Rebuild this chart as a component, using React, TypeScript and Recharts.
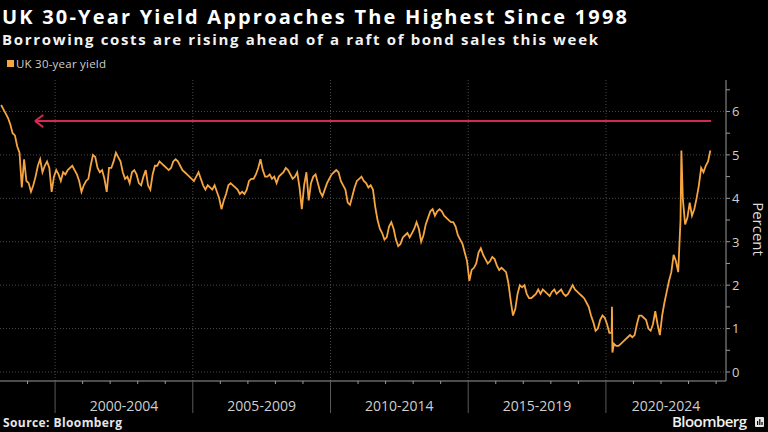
import { LineChart, Line, XAxis, YAxis, CartesianGrid, ReferenceLine } from "recharts";

// UK 30-year gilt yield, monthly readings (mid-month), Jan 1998 .. Oct 2023
const START_YEAR = 1998;
const monthlyYield = [
  // 1998
  6.15, 6.05, 5.95, 5.85, 5.7, 5.5, 5.45, 5.2, 5.05, 4.25, 4.9, 4.4,
  // 1999
  4.35, 4.15, 4.3, 4.5, 4.75, 4.9, 4.6, 4.75, 4.85, 4.7, 4.15, 4.5,
  // 2000
  4.65, 4.55, 4.4, 4.6, 4.55, 4.65, 4.7, 4.75, 4.65, 4.55, 4.4, 4.15,
  // 2001
  4.3, 4.4, 4.45, 4.75, 5.0, 4.95, 4.7, 4.6, 4.65, 4.45, 4.15, 4.7,
  // 2002
  4.7, 4.85, 5.05, 4.95, 4.85, 4.6, 4.45, 4.5, 4.35, 4.6, 4.65, 4.55,
  // 2003
  4.35, 4.3, 4.5, 4.65, 4.3, 4.2, 4.55, 4.75, 4.75, 4.85, 4.8, 4.75,
  // 2004
  4.7, 4.65, 4.7, 4.85, 4.9, 4.85, 4.75, 4.65, 4.6, 4.55, 4.5, 4.45,
  // 2005
  4.4, 4.5, 4.6, 4.45, 4.3, 4.2, 4.3, 4.25, 4.2, 4.3, 4.15, 4.0,
  // 2006
  3.75, 3.95, 4.1, 4.3, 4.35, 4.3, 4.25, 4.2, 4.1, 4.15, 4.1, 4.2,
  // 2007
  4.4, 4.45, 4.45, 4.55, 4.7, 4.9, 4.65, 4.5, 4.5, 4.55, 4.45, 4.5,
  // 2008
  4.35, 4.5, 4.55, 4.6, 4.7, 4.65, 4.55, 4.45, 4.5, 4.6, 4.25, 3.75,
  // 2009
  4.3, 4.6, 3.95, 4.35, 4.5, 4.55, 4.35, 4.15, 4.05, 4.2, 4.35, 4.45,
  // 2010
  4.55, 4.6, 4.65, 4.6, 4.4, 4.3, 4.2, 3.9, 3.85, 4.05, 4.25, 4.4,
  // 2011
  4.45, 4.5, 4.4, 4.35, 4.25, 4.3, 4.2, 3.8, 3.5, 3.3, 3.2, 3.05,
  // 2012
  3.1, 3.35, 3.45, 3.3, 3.05, 2.9, 2.95, 3.1, 3.15, 3.2, 3.1, 3.2,
  // 2013
  3.3, 3.45, 3.3, 3.0, 3.15, 3.4, 3.55, 3.7, 3.75, 3.6, 3.7, 3.75,
  // 2014
  3.7, 3.6, 3.55, 3.5, 3.45, 3.45, 3.35, 3.15, 3.05, 2.95, 2.75, 2.55,
  // 2015
  2.1, 2.35, 2.4, 2.5, 2.75, 2.85, 2.7, 2.6, 2.5, 2.55, 2.65, 2.6,
  // 2016
  2.45, 2.35, 2.4, 2.35, 2.3, 2.05, 1.65, 1.3, 1.45, 1.8, 2.0, 1.95,
  // 2017
  2.0, 1.8, 1.7, 1.7, 1.75, 1.8, 1.9, 1.8, 1.9, 1.85, 1.8, 1.75,
  // 2018
  1.85, 1.9, 1.8, 1.85, 1.9, 1.8, 1.75, 1.8, 1.9, 2.0, 1.9, 1.85,
  // 2019
  1.8, 1.75, 1.7, 1.6, 1.5, 1.3, 1.15, 0.95, 1.0, 1.2, 1.3, 1.25,
  // 2020
  1.1, 0.9, 0.9, 0.65, 0.6, 0.6, 0.65, 0.7, 0.75, 0.8, 0.85, 0.8,
  // 2021
  0.85, 1.1, 1.3, 1.3, 1.25, 1.2, 1.0, 0.95, 1.1, 1.4, 1.1, 0.85,
  // 2022
  1.3, 1.6, 1.85, 2.1, 2.3, 2.7, 2.55, 2.3, 3.5, 4.0, 3.4, 3.55,
  // 2023
  3.9, 3.6, 3.75, 4.0, 4.3, 4.7, 4.6, 4.75, 4.85, 5.1,
];

// short-lived moves the monthly readings miss (covid dash, LDI crisis)
const spikes = [
  { t: 2020.22, v: 1.5 },
  { t: 2020.235, v: 0.45 },
  { t: 2022.74, v: 5.1 },
];

const periodStarts = [2000, 2005, 2010, 2015, 2020];
const periodLabels = ["2000-2004", "2005-2009", "2010-2014", "2015-2019", "2020-2024"];
const yLabels = [0, 1, 2, 3, 4, 5, 6];

const X_MIN = 1998;
const X_MAX = 2024.36;
const Y_MIN = -0.207;
const Y_MAX = 6.725;

// red "highest since 1998" arrow
const arrowLevel = 5.78;
const arrowFrom = 1999.27;
const arrowTo = 2023.82;

const data = [
  ...monthlyYield.map((v, i) => ({ t: START_YEAR + (i + 0.5) / 12, v })),
  ...spikes,
].sort((a, b) => a.t - b.t);

const yearTicks: number[] = [];
for (let y = 1999; y <= 2024; y++) yearTicks.push(y);
const labelTicks = periodStarts.map((s) => (s + Math.min(s + 5, X_MAX)) / 2);
const xTicks = [...yearTicks, ...labelTicks];

const yTicks: number[] = [];
for (let v = 0; v <= 6.5; v += 0.5) yTicks.push(v);

const FONT = "'Open Sans', sans-serif";
const ORANGE = "#f6a540";
const RED = "#d42a4f";

function XTick(props: any) {
  const { x, y, payload } = props;
  const v = payload.value;
  const li = labelTicks.findIndex((m) => Math.abs(m - v) < 1e-6);
  if (li >= 0) {
    return (
      <text x={x} y={y + 30} textAnchor="middle" fill="#cfcfcf" fontSize={14} fontFamily={FONT}>
        {periodLabels[li]}
      </text>
    );
  }
  if (periodStarts.includes(v)) {
    return <line x1={x} x2={x} y1={y} y2={y + 32} stroke="#5a5a5a" strokeWidth={1} />;
  }
  return <line x1={x} x2={x} y1={y} y2={y + 3} stroke="#9a9a9a" strokeWidth={1} />;
}

function YTick(props: any) {
  const { x, y, payload } = props;
  const v = payload.value;
  const major = yLabels.includes(v);
  return (
    <g>
      <line x1={x} x2={x + 4} y1={y} y2={y} stroke="#9a9a9a" strokeWidth={1} />
      {major && (
        <text x={x + 6} y={y + 4.8} fill="#cfcfcf" fontSize={13} fontFamily={FONT}>
          {v}
        </text>
      )}
    </g>
  );
}

export default function App() {
  return (
    <div
      style={{
        position: "fixed",
        left: 0,
        top: 0,
        width: 768,
        height: 432,
        background: "#000",
        overflow: "hidden",
      }}
    >
      <div style={{ position: "absolute", left: 0, top: 0 }}>
        <LineChart width={768} height={432} data={data} margin={{ top: 80, right: 0, left: 0, bottom: 21 }}>
          <CartesianGrid
            stroke="#4a4a4a"
            strokeDasharray="1 2"
            horizontalValues={yLabels}
            verticalValues={periodStarts}
          />
          <XAxis
            dataKey="t"
            type="number"
            domain={[X_MIN, X_MAX]}
            allowDataOverflow
            ticks={xTicks}
            interval={0}
            tick={<XTick />}
            tickLine={false}
            tickSize={0}
            tickMargin={0}
            height={30}
            axisLine={{ stroke: "#9a9a9a" }}
          />
          <YAxis
            orientation="right"
            type="number"
            domain={[Y_MIN, Y_MAX]}
            allowDataOverflow
            ticks={yTicks}
            interval={0}
            tick={<YTick />}
            tickLine={false}
            tickSize={0}
            tickMargin={0}
            width={42}
            axisLine={{ stroke: "#9a9a9a" }}
          />
          <Line
            dataKey="v"
            type="linear"
            stroke={ORANGE}
            strokeWidth={1.8}
            dot={false}
            isAnimationActive={false}
          />
          <ReferenceLine
            segment={[
              { x: arrowFrom, y: arrowLevel },
              { x: arrowTo, y: arrowLevel },
            ]}
            stroke={RED}
            strokeWidth={2}
          />
          <ReferenceLine
            segment={[
              { x: arrowFrom, y: arrowLevel },
              { x: arrowFrom + 0.3, y: arrowLevel + 0.14 },
            ]}
            stroke={RED}
            strokeWidth={2}
          />
          <ReferenceLine
            segment={[
              { x: arrowFrom, y: arrowLevel },
              { x: arrowFrom + 0.3, y: arrowLevel - 0.14 },
            ]}
            stroke={RED}
            strokeWidth={2}
          />
        </LineChart>
      </div>
      <svg
        width={768}
        height={432}
        style={{ position: "absolute", left: 0, top: 0, pointerEvents: "none" }}
        fontFamily={FONT}
      >
        <text x={2} y={24} fill="#fff" fontSize={20} fontWeight={700} textLength={625} lengthAdjust="spacing">
          UK 30-Year Yield Approaches The Highest Since 1998
        </text>
        <text x={2} y={45} fill="#f2f2f2" fontSize={15} fontWeight={700} textLength={596} lengthAdjust="spacing">
          Borrowing costs are rising ahead of a raft of bond sales this week
        </text>
        <rect x={7} y={60} width={7} height={7} fill={ORANGE} />
        <text x={16} y={68} fill="#cfcfcf" fontSize={11.5} textLength={90} lengthAdjust="spacing">
          UK 30-year yield
        </text>
        <text
          x={757}
          y={229}
          fill="#dcdcdc"
          fontSize={15}
          textAnchor="middle"
          transform="rotate(90 757 229)"
          dominantBaseline="middle"
        >
          Percent
        </text>
        <text x={3} y={426.5} fill="#e6e6e6" fontSize={12} fontWeight={700} textLength={119} lengthAdjust="spacing">
          Source: Bloomberg
        </text>
        <text x={672} y={427} fill="#f0f0f0" fontSize={15} fontWeight={600} textLength={75} lengthAdjust="spacing">
          Bloomberg
        </text>
        <rect x={755} y={417} width={9} height={10} fill="#e6e6e6" rx={1} />
        <rect x={757} y={421} width={1.2} height={4} fill="#000" />
        <rect x={759.2} y={419} width={1.2} height={6} fill="#000" />
        <rect x={761.4} y={422} width={1.2} height={3} fill="#000" />
      </svg>
    </div>
  );
}
